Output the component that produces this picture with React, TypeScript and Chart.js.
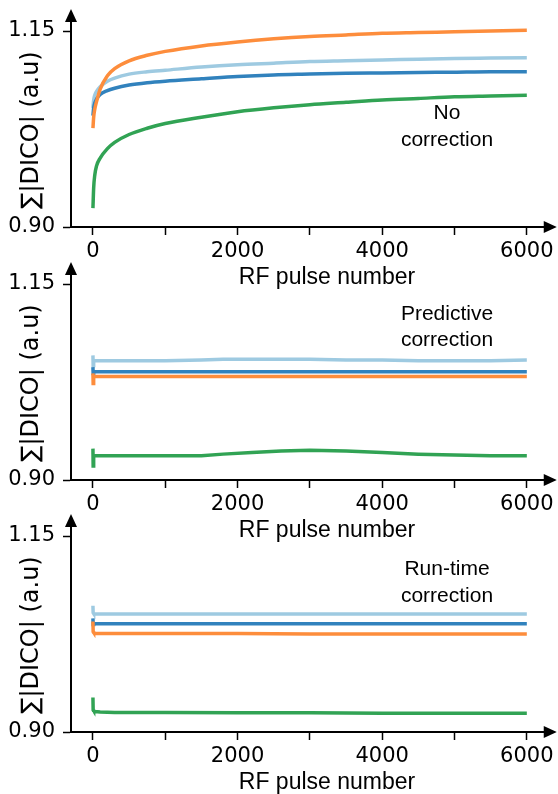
import { useEffect, useRef } from "react";
import { Chart, registerables } from "chart.js";
Chart.register(...registerables);

// ---------- data ----------
const xTicks = [0, 1000, 2000, 3000, 4000, 5000, 6000];
const yTicks = [0.9, 1.15];

// Panel 1: no correction
const xNo = [0, 10, 25, 50, 100, 200, 300, 500, 750, 1000, 1500, 2000, 2500, 3000, 3500, 4000, 4500, 5000, 5500, 6000];
const noLight = [1.052, 1.062, 1.068, 1.073, 1.079, 1.086, 1.090, 1.095, 1.098, 1.100, 1.104, 1.107, 1.109, 1.111, 1.112, 1.113, 1.114, 1.115, 1.1155, 1.116];
const noDark = [1.042, 1.052, 1.058, 1.063, 1.069, 1.074, 1.077, 1.081, 1.084, 1.086, 1.089, 1.092, 1.094, 1.095, 1.096, 1.0965, 1.097, 1.0975, 1.098, 1.098];
const noOrange = [1.026, 1.040, 1.050, 1.060, 1.076, 1.093, 1.102, 1.112, 1.119, 1.124, 1.131, 1.136, 1.140, 1.143, 1.145, 1.147, 1.148, 1.149, 1.150, 1.151];
const noGreen = [0.924, 0.950, 0.966, 0.978, 0.988, 1.000, 1.008, 1.018, 1.026, 1.032, 1.040, 1.047, 1.052, 1.056, 1.059, 1.062, 1.064, 1.066, 1.067, 1.068];

// Panel 2: predictive correction
const xPred = [0, 3, 10, 500, 1000, 1500, 1800, 2200, 2600, 3000, 3500, 4000, 4500, 5000, 5500, 6000];
const predLight = [1.059, 1.046, 1.052, 1.052, 1.052, 1.053, 1.054, 1.054, 1.054, 1.054, 1.053, 1.053, 1.052, 1.052, 1.052, 1.053];
const predDark = [1.044, 1.036, 1.038, 1.038, 1.038, 1.038, 1.038, 1.038, 1.038, 1.038, 1.038, 1.038, 1.038, 1.038, 1.038, 1.038];
const predOrange = [1.036, 1.023, 1.032, 1.032, 1.032, 1.032, 1.032, 1.032, 1.032, 1.032, 1.032, 1.032, 1.032, 1.032, 1.032, 1.032];
const predGreen = [0.940, 0.918, 0.931, 0.931, 0.931, 0.931, 0.933, 0.935, 0.937, 0.938, 0.937, 0.935, 0.933, 0.932, 0.931, 0.931];

// Panel 3: run-time correction
const xRun = [0, 3, 10, 30, 100, 300, 700, 1000, 2000, 3000, 4000, 5000, 6000];
const runLight = [1.061, 1.052, 1.051, 1.0505, 1.0505, 1.0505, 1.0505, 1.0505, 1.0505, 1.0505, 1.0505, 1.0505, 1.0505];
const runDark = [1.045, 1.037, 1.038, 1.038, 1.038, 1.038, 1.038, 1.038, 1.038, 1.038, 1.038, 1.038, 1.038];
const runOrange = [1.041, 1.028, 1.027, 1.026, 1.0255, 1.0255, 1.0255, 1.0255, 1.0255, 1.025, 1.025, 1.025, 1.025];
const runGreen = [0.944, 0.928, 0.927, 0.926, 0.9255, 0.925, 0.925, 0.925, 0.9245, 0.9245, 0.924, 0.924, 0.924];

const LIGHT = "#9ecae1";
const DARK = "#3182bd";
const ORANGE = "#fd8d3c";
const GREEN = "#31a354";

type PanelDef = {
  x: number[];
  light: number[];
  dark: number[];
  orange: number[];
  green: number[];
  note: string[];
  noteOffsets: number[];
  smooth: boolean;
  top: number;
};

const panels: PanelDef[] = [
  { x: xNo, light: noLight, dark: noDark, orange: noOrange, green: noGreen, note: ["No", "correction"], noteOffsets: [88, 115], smooth: true, top: 0 },
  { x: xPred, light: predLight, dark: predDark, orange: predOrange, green: predGreen, note: ["Predictive", "correction"], noteOffsets: [36, 62], smooth: false, top: 253 },
  { x: xRun, light: runLight, dark: runDark, orange: runOrange, green: runGreen, note: ["Run-time", "correction"], noteOffsets: [39, 66], smooth: false, top: 505 },
];

const W = 558;
const H = 289;

function Panel({ def }: { def: PanelDef }) {
  const ref = useRef<HTMLCanvasElement | null>(null);
  useEffect(() => {
    if (!ref.current) return;
    const pts = (ys: number[]) => def.x.map((x, i) => ({ x, y: ys[i] }));
    const ds = (ys: number[], color: string) => ({
      data: pts(ys),
      borderColor: color,
      backgroundColor: color,
      borderWidth: 3.5,
      pointRadius: 0,
      fill: false,
      cubicInterpolationMode: def.smooth ? ("monotone" as const) : ("default" as const),
      tension: 0,
    });
    const decor = {
      id: "decor",
      afterDraw(chart: any) {
        const { ctx, chartArea: a, scales } = chart;
        const y115 = scales.y.getPixelForValue(1.15);
        ctx.save();
        ctx.fillStyle = "#000";
        // y arrow
        ctx.beginPath();
        ctx.moveTo(a.left - 6, a.top + 1);
        ctx.lineTo(a.left + 6, a.top + 1);
        ctx.lineTo(a.left, a.top - 12);
        ctx.closePath();
        ctx.fill();
        // x arrow
        ctx.beginPath();
        ctx.moveTo(a.right - 1, a.bottom - 6);
        ctx.lineTo(a.right - 1, a.bottom + 6);
        ctx.lineTo(a.right + 12, a.bottom);
        ctx.closePath();
        ctx.fill();
        // y title
        ctx.save();
        ctx.translate(32, y115 + 99);
        ctx.rotate(-Math.PI / 2);
        ctx.font = '24px "DejaVu Sans"';
        ctx.textAlign = "center";
        ctx.textBaseline = "middle";
        ctx.fillText("\u2211|DICO| (a.u)", 0, 0);
        ctx.restore();
        // x title
        ctx.font = '23px "Liberation Sans"';
        ctx.textAlign = "center";
        ctx.textBaseline = "alphabetic";
        ctx.fillText("RF pulse number", 327, y115 + 253);
        // annotation
        ctx.font = '21px "Liberation Sans"';
        def.note.forEach((t, i) => ctx.fillText(t, 447, y115 + def.noteOffsets[i]));
        ctx.restore();
      },
    };
    const chart = new Chart(ref.current, {
      type: "line",
      data: {
        datasets: [
          ds(def.green, GREEN),
          ds(def.orange, ORANGE),
          ds(def.dark, DARK),
          ds(def.light, LIGHT),
        ],
      },
      options: {
        animation: false,
        responsive: false,
        devicePixelRatio: 1,
        layout: { padding: { top: 21, right: 12, left: 0, bottom: 0 } },
        plugins: { legend: { display: false }, tooltip: { enabled: false } },
        scales: {
          x: {
            type: "linear",
            min: -303.4,
            max: 6248.3,
            afterFit: (s: any) => {
              s.height = H - 227;
            },
            afterBuildTicks: (s: any) => {
              s.ticks = xTicks.map((v) => ({ value: v }));
            },
            grid: { drawOnChartArea: false, drawTicks: true, tickLength: 8, tickWidth: 1.5, tickColor: "#000" },
            border: { display: true, color: "#000", width: 2 },
            ticks: {
              autoSkip: false,
              maxRotation: 0,
              padding: 4,
              color: "#000",
              font: { family: "DejaVu Sans", size: 21 },
              callback: (v: any) => (Number(v) % 2000 === 0 ? String(v) : ""),
            },
          },
          y: {
            type: "linear",
            min: 0.9,
            max: 1.16276,
            afterFit: (s: any) => {
              s.width = 71;
            },
            afterBuildTicks: (s: any) => {
              s.ticks = yTicks.map((v) => ({ value: v }));
            },
            grid: { drawOnChartArea: false, drawTicks: true, tickLength: 8, tickWidth: 1.5, tickColor: "#000" },
            border: { display: true, color: "#000", width: 2 },
            ticks: {
              padding: 8,
              color: "#000",
              font: { family: "DejaVu Sans", size: 21 },
              callback: (v: any) => Number(v).toFixed(2),
            },
          },
        },
      },
      plugins: [decor],
    });
    return () => chart.destroy();
  }, [def]);
  return (
    <canvas
      ref={ref}
      width={W}
      height={H}
      style={{ position: "absolute", left: 0, top: def.top, width: W, height: H }}
    />
  );
}

export default function App() {
  return (
    <div style={{ position: "absolute", left: 0, top: 0, width: W, height: 794, overflow: "hidden", background: "#fff" }}>
      {panels.map((p, i) => (
        <Panel key={i} def={p} />
      ))}
    </div>
  );
}
